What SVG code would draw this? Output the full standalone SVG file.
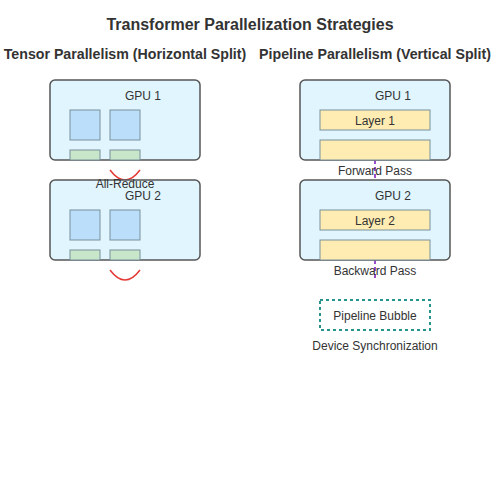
<svg xmlns="http://www.w3.org/2000/svg" width="500" height="500" viewBox="0 0 500 500">
<style>
text{font-family:"Liberation Sans",Arial,sans-serif;fill:#333;text-anchor:middle}
.title{font-size:16px;font-weight:bold}
.sub{font-size:14.2px;font-weight:bold}
.lbl{font-size:12px}
.gpu{fill:#e1f5fe;stroke:#555;stroke-width:1.5}
.blk{fill:#bbdefb;stroke:#78909c;stroke-width:1}
.grn{fill:#c8e6c9;stroke:#78909c;stroke-width:1}
.lay{fill:#ffecb3;stroke:#78909c;stroke-width:1}
.arc{fill:none;stroke:#e53935;stroke-width:1.5}
.dash{stroke:#9c4dcc;stroke-width:2;stroke-dasharray:4,3}
</style>
<rect width="500" height="500" fill="#fff"/>
<text class="title" x="250" y="30">Transformer Parallelization Strategies</text>
<text class="sub" x="125" y="59">Tensor Parallelism (Horizontal Split)</text>
<text class="sub" x="375" y="59">Pipeline Parallelism (Vertical Split)</text>
<g id="connectors">
<path class="arc" d="M110,170 Q125,190 140,170"/>
<path class="arc" d="M110,270 Q125,290 140,270"/>
<line class="dash" x1="375" y1="160" x2="375" y2="180"/>
<line class="dash" x1="375" y1="260" x2="375" y2="280"/>
</g>
<g id="tensor-gpu1">
<rect class="gpu" x="50" y="80" width="150" height="80" rx="5"/>
<text class="lbl" x="143" y="100">GPU 1</text>
<rect class="blk" x="70" y="110" width="30" height="30"/>
<rect class="blk" x="110" y="110" width="30" height="30"/>
<rect class="grn" x="70" y="150" width="30" height="10"/>
<rect class="grn" x="110" y="150" width="30" height="10"/>
</g>
<g id="tensor-gpu2">
<rect class="gpu" x="50" y="180" width="150" height="80" rx="5"/>
<text class="lbl" x="143" y="200">GPU 2</text>
<rect class="blk" x="70" y="210" width="30" height="30"/>
<rect class="blk" x="110" y="210" width="30" height="30"/>
<rect class="grn" x="70" y="250" width="30" height="10"/>
<rect class="grn" x="110" y="250" width="30" height="10"/>
</g>
<text class="lbl" x="125" y="188">All-Reduce</text>
<g id="pipe-gpu1">
<rect class="gpu" x="300" y="80" width="150" height="80" rx="5"/>
<text class="lbl" x="393" y="100">GPU 1</text>
<rect class="lay" x="320" y="110" width="110" height="20"/>
<text class="lbl" x="375" y="125">Layer 1</text>
<rect class="lay" x="320" y="140" width="110" height="20"/>
</g>
<g id="pipe-gpu2">
<rect class="gpu" x="300" y="180" width="150" height="80" rx="5"/>
<text class="lbl" x="393" y="200">GPU 2</text>
<rect class="lay" x="320" y="210" width="110" height="20"/>
<text class="lbl" x="375" y="225">Layer 2</text>
<rect class="lay" x="320" y="240" width="110" height="20"/>
</g>
<text class="lbl" x="375" y="175">Forward Pass</text>
<text class="lbl" x="375" y="275">Backward Pass</text>
<g id="bubble">
<rect x="320" y="300" width="110" height="30" fill="#fff" stroke="#26948a" stroke-width="2" stroke-dasharray="3,3"/>
<text class="lbl" x="375" y="320">Pipeline Bubble</text>
</g>
<text class="lbl" x="375" y="350">Device Synchronization</text>
</svg>
